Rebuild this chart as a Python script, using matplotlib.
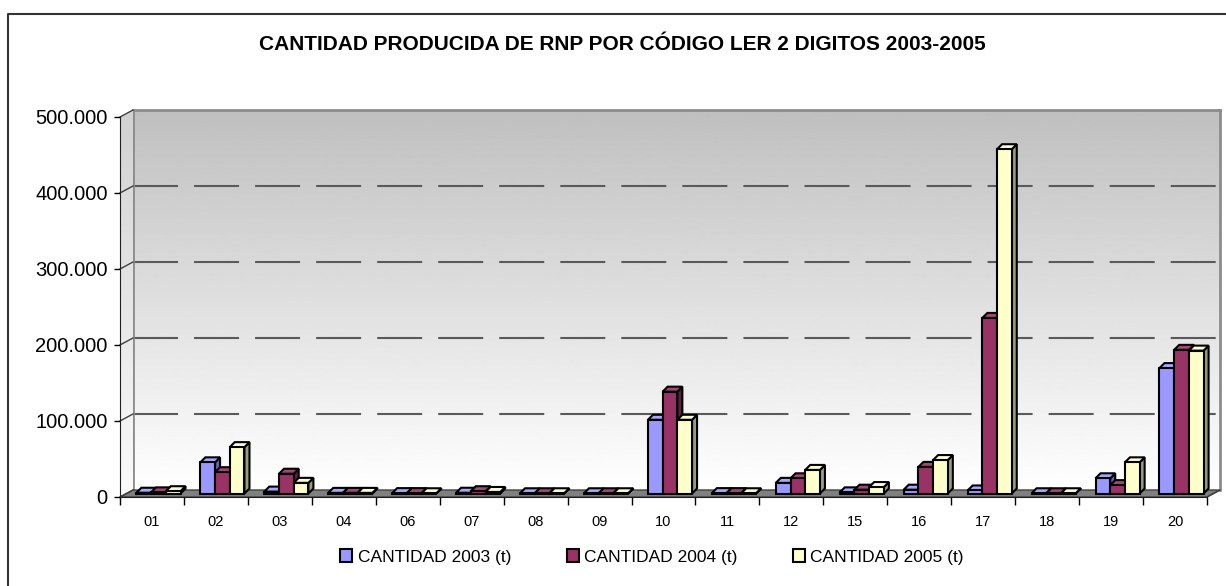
import numpy as np
import matplotlib
matplotlib.use("Agg")
import matplotlib.pyplot as plt
from matplotlib.patches import Polygon, Rectangle
from matplotlib.transforms import IdentityTransform, ScaledTranslation
from matplotlib.lines import Line2D

plt.rcParams['font.family'] = ['Liberation Sans', 'DejaVu Sans']

# data (t)
codes = ['01', '02', '03', '04', '06', '07', '08', '09', '10', '11', '12',
         '15', '16', '17', '18', '19', '20']
cant_2003 = [1000, 41000, 2500, 800, 500, 1000, 300, 300, 97000, 500, 14000,
             1500, 5000, 4000, 300, 20000, 165000]
cant_2004 = [1500, 28000, 26000, 800, 500, 3000, 300, 300, 134000, 500, 20000,
             5000, 35000, 231000, 300, 11000, 189000]
cant_2005 = [3000, 61000, 14000, 800, 300, 2000, 300, 300, 97000, 300, 31000,
             8500, 44000, 453000, 300, 41000, 188000]
series_labels = ['CANTIDAD 2003 (t)', 'CANTIDAD 2004 (t)', 'CANTIDAD 2005 (t)']
yticks = [0, 100000, 200000, 300000, 400000, 500000]

W, H = 1226, 586
DPI = 100


def fx(px):
    return px / W


def fy(py):
    return 1 - py / H


# front plane of the plot (pixels)
L, R, T, B = 120, 1207, 117, 497
DX, DY = 13, 7          # wall depth
BX, BY = 6.5, 3.5       # bars sit at mid depth
D = 5                   # bar depth

fig = plt.figure(figsize=(W / DPI, H / DPI), dpi=DPI)
fig.patch.set_facecolor('white')

# outer border
bg = fig.add_axes([0, 0, 1, 1], zorder=0)
bg.set_xlim(0, W)
bg.set_ylim(H, 0)
bg.axis('off')
bg.add_line(Line2D([8, 8, W + 5], [H + 5, 14, 14], color='#333333', lw=1.5))

# back wall with gradient + dashed grid
back = fig.add_axes([fx(L + DX), fy(B - DY), (R - L) / W, (B - T) / H], zorder=1)
grad = np.linspace(0.75, 1.0, 256).reshape(-1, 1)
back.imshow(grad, cmap='gray', vmin=0, vmax=1, aspect='auto',
            extent=[0, 1, 0, 500000], interpolation='bilinear')
back.set_xlim(0, 1)
back.set_ylim(0, 500000)
for v in yticks[1:-1]:
    back.axhline(v, color='#5a5a5a', lw=1.5, linestyle=(0, (21.6, 7.7)))
back.set_xticks([])
back.set_yticks([])
for s in back.spines.values():
    s.set_color('#8c8c8c')
    s.set_linewidth(2)
back.spines['bottom'].set_visible(False)

# side wall
side = fig.add_axes([fx(L), fy(B), DX / W, (B - T + DY) / H], zorder=1)
sgrad = np.linspace(0.82, 0.98, 256).reshape(-1, 1)
im = side.imshow(sgrad, cmap='gray', vmin=0, vmax=1, aspect='auto',
                 extent=[0, 1, 0, 1], interpolation='bilinear')
hh = B - T + DY
clip = Polygon([(0, 0), (0, (B - T) / hh), (1, 1), (1, DY / hh)],
               transform=side.transAxes, facecolor='none', edgecolor='none')
side.add_patch(clip)
im.set_clip_path(clip)
side.set_xlim(0, 1)
side.set_ylim(0, 1)
side.axis('off')

# floor, tick connectors
deco = fig.add_axes([0, 0, 1, 1], zorder=2)
deco.set_xlim(0, W)
deco.set_ylim(H, 0)
deco.axis('off')
deco.add_patch(Polygon([(L, B), (R, B), (R + DX, B - DY), (L + DX, B - DY)],
                       facecolor='#808080', edgecolor='#404040', lw=1))
for v in yticks:
    yy = B - (B - T) * v / 500000
    deco.add_line(Line2D([L, L + DX], [yy, yy - DY], color='#404040', lw=1))
deco.add_line(Line2D([R, R + DX], [B, B - DY], color='#404040', lw=1))

# front axes with bars
ax = fig.add_axes([fx(L), fy(B), (R - L) / W, (B - T) / H], zorder=3)
ax.patch.set_visible(False)
ax.set_xlim(-0.5, len(codes) - 0.5)
ax.set_ylim(0, 500000)

bw = 0.23
faces = ['#9999ff', '#993366', '#ffffcc']
sides = ['#6464b0', '#5e1f40', '#9c9c7a']
tops = ['#a8a8ff', '#a84576', '#ffffd6']
off = ax.transData + ScaledTranslation(BX / DPI, BY / DPI, fig.dpi_scale_trans)
xpos = np.arange(len(codes))
for j, vals in enumerate([cant_2003, cant_2004, cant_2005]):
    xs = xpos + (j - 1) * bw
    for x, v in zip(xs, vals):
        x0, y0 = ax.transData.transform((x - bw / 2, 0)) + (BX, BY)
        x1, y1 = ax.transData.transform((x + bw / 2, v)) + (BX, BY)
        ax.add_patch(Polygon([(x1, y0), (x1 + D, y0 + D), (x1 + D, y1 + D), (x1, y1)],
                             transform=IdentityTransform(), facecolor=sides[j],
                             edgecolor='black', lw=1.5, clip_on=False, zorder=10 + 2 * j))
        ax.add_patch(Polygon([(x0, y1), (x1, y1), (x1 + D, y1 + D), (x0 + D, y1 + D)],
                             transform=IdentityTransform(), facecolor=tops[j],
                             edgecolor='black', lw=1.5, clip_on=False, zorder=10 + 2 * j))
    bars = ax.bar(xs, vals, width=bw, color=faces[j], edgecolor='black', lw=1.5,
                  zorder=11 + 2 * j)
    for p in bars:
        p.set_transform(off)
        p.set_clip_on(False)

for s in ['top', 'right']:
    ax.spines[s].set_visible(False)
ax.spines['left'].set_color('#202020')
ax.spines['bottom'].set_color('#202020')
ax.set_yticks(yticks)
ax.set_yticklabels([f"{v:,.0f}".replace(',', '.') for v in yticks], fontsize=14.5)
ax.tick_params(axis='y', length=4, width=1, pad=5)
ax.set_xticks(xpos)
ax.set_xticklabels(codes, fontsize=10.5)
ax.set_xticks(np.arange(-0.5, len(codes)), minor=True)
ax.tick_params(axis='x', which='major', length=0, pad=13)
ax.tick_params(axis='x', which='minor', length=6, width=1)

fig.text(fx(622), fy(45), 'CANTIDAD PRODUCIDA DE RNP POR CÓDIGO LER 2 DIGITOS 2003-2005',
         ha='center', va='center', fontsize=15, fontweight='bold')

handles = [Rectangle((0, 0), 1, 1, facecolor=c, edgecolor='black', lw=1.5) for c in faces]
fig.legend(handles, series_labels, ncol=3, loc='center',
           bbox_to_anchor=(fx(652), fy(557)), frameon=False, fontsize=12.5,
           handlelength=0.7, handleheight=0.7, handletextpad=0.3, columnspacing=3.2)

fig.savefig('out.png', dpi=DPI)
